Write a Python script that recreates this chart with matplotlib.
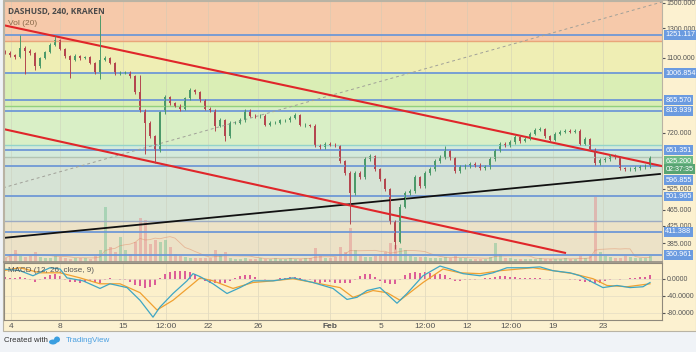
import numpy as np
import pandas as pd
import matplotlib
matplotlib.use("Agg")
import matplotlib.pyplot as plt
from matplotlib import transforms
from matplotlib.patches import Rectangle, Ellipse
from matplotlib.ticker import FixedLocator, NullLocator, FuncFormatter

# DASHUSD 4h candles (grouped ~2.5 bars per candle)
first_open = 1140
closes = [1130, 1116, 1103, 1162, 1143, 1130, 1049, 1097, 1136, 1182,
          1215, 1156, 1110, 1085, 1110, 1097, 1103, 1067, 1013, 1085,
          1097, 1067, 1002, 1008, 1013, 990, 904, 816, 762, 707,
          649, 807, 879, 850, 839, 825, 874, 914, 904, 864,
          825, 816, 749, 771, 707, 762, 762, 771, 816, 793,
          789, 793, 753, 762, 762, 771, 771, 784, 797, 753,
          753, 749, 668, 664, 676, 672, 668, 613, 573, 511,
          573, 560, 620, 631, 586, 553, 523, 435, 389, 474,
          511, 517, 560, 532, 573, 586, 613, 627, 649, 624,
          579, 592, 596, 603, 599, 589, 592, 620, 649, 676,
          668, 683, 703, 687, 695, 715, 732, 736, 707, 691,
          715, 724, 728, 724, 728, 676, 695, 656, 606, 617,
          620, 631, 627, 589, 586, 586, 589, 592, 596, 625.2]
highs = [1150, 1140, 1125, 1250, 1172, 1152, 1138, 1106, 1145, 1192,
         1240, 1222, 1164, 1118, 1120, 1118, 1112, 1110, 1073, 1400,
         1108, 1104, 1073, 1018, 1022, 1020, 995, 996, 822, 770,
         712, 815, 888, 886, 858, 846, 882, 925, 922, 910,
         870, 832, 822, 780, 777, 770, 770, 780, 825, 822,
         800, 800, 798, 770, 770, 778, 778, 792, 805, 802,
         760, 758, 754, 675, 684, 682, 679, 672, 618, 578,
         580, 580, 627, 638, 636, 590, 557, 527, 440, 480,
         518, 524, 566, 565, 580, 593, 620, 634, 668, 654,
         629, 598, 603, 610, 609, 605, 598, 626, 655, 683,
         683, 690, 710, 709, 702, 722, 740, 744, 741, 712,
         722, 731, 735, 735, 735, 733, 702, 700, 660, 624,
         627, 638, 638, 632, 594, 593, 595, 598, 602, 632]
lows = [1120, 1105, 1090, 1098, 1002, 1118, 1025, 1040, 1090, 1128,
        1175, 1148, 1100, 979, 1078, 1088, 1090, 1060, 1005, 973,
        1078, 1058, 995, 995, 1000, 982, 896, 808, 638, 698,
        606, 645, 800, 842, 830, 815, 820, 868, 896, 856,
        816, 808, 728, 742, 687, 700, 755, 755, 765, 786,
        782, 782, 746, 746, 755, 756, 764, 765, 778, 746,
        745, 742, 662, 657, 658, 666, 662, 606, 566, 430,
        505, 554, 554, 614, 580, 547, 517, 430, 374, 385,
        470, 505, 512, 526, 528, 567, 580, 607, 621, 618,
        573, 574, 586, 590, 593, 583, 583, 587, 615, 644,
        662, 662, 677, 680, 681, 689, 709, 726, 700, 684,
        686, 709, 718, 718, 718, 670, 670, 650, 600, 600,
        611, 614, 621, 583, 580, 580, 580, 583, 586, 590]
volumes = [4, 8, 12, 6, 5, 6, 10, 5,
           4, 4, 6, 5, 4, 3, 4, 4, 4, 3,
           6, 12, 55, 15, 10, 25, 12, 8, 20, 44, 42, 18, 22, 20, 22, 15, 8, 6,
           5, 4, 4, 4, 4,
           4, 12, 8, 10,
           4, 3, 3, 4, 3, 3, 4, 3, 3, 4, 3, 3, 4, 3, 3, 4, 4,
           14, 6, 4, 4, 5,
           15, 10, 34, 12,
           6, 5, 5, 6, 8,
           10, 19, 17, 14, 12,
           6, 5, 5, 5, 4, 4, 4, 5, 4, 6, 4, 4, 3, 3, 3, 3,
           5, 19, 8,
           4, 4, 3, 3, 3, 3, 3, 4, 3, 3, 3, 3, 4, 3, 3, 6, 4, 6,
           65, 10,
           6, 5, 4, 4, 6, 5, 4, 4, 4, 6]

# MACD (12, 26, close, 9)
macd_hist = [3, 2, 1, 3, 2, -3, -8, -4, 3, 8,
             11, 7, -3, -7, -8, -9, -8, -6, -8, -10,
             -4, 2, 0, -2, -3, -8, -14, -18, -21, -20,
             -16, 2, 12, 16, 18, 19, 18, 15, 10, 2,
             -6, -9, -10, -11, -11, -6, 2, 6, 9, 8,
             3, 0, -2, -1, 0, 1, 2, 4, 5, 1,
             -2, -4, -8, -9, -8, -7, -9, -11, -11, -10,
             -4, 6, 11, 10, 4, -5, -9, -12, -13, -4,
             8, 13, 15, 14, 15, 14, 12, 11, 9, 2,
             -5, -5, -4, -3, -2, -1, 1, 2, 5, 6,
             6, 5, 3, 2, 1, 1, 2, 1, -1, -2,
             -1, -1, -1, -2, -2, -6, -7, -8, -10, -10,
             -6, -3, -1, -2, -1, 1, 2, 3, 5, 8]
macd_x = [-0.4, 3, 5.6, 9, 11, 12.4, 15.6, 19, 21, 24.4,
          27, 29.6, 31, 33.6, 36.4, 37.6, 39, 41.6, 44.4, 47,
          49.6, 53.6, 57.6, 61.6, 65.6, 68.4, 70.4, 72.4, 75, 78.4,
          80.4, 83.6, 87, 89, 91.6, 95, 97.6, 100.4, 104.4, 107,
          109.6, 113, 115, 117.6, 119.6, 122.4, 125, 127.6, 129]
macd_line = [23, 19, 7, 26, 23, 2, -5, -23, -12, -21,
             -51, -91, -67, -35, -5, 12, 5, -12, -35, -21,
             -5, -5, 2, -9, -23, -49, -44, -28, -21, -58,
             -35, 7, 30, 23, 12, 7, 14, 26, 26, 28,
             19, 14, 7, -9, -21, -16, -21, -19, -9]
signal_x = [-0.4, 3, 7, 11, 15, 19, 23, 27, 30.4, 33.6,
            37.6, 39, 41.6, 45.6, 49.6, 53.6, 57.6, 63, 67, 69.6,
            73.6, 76.4, 79, 83.6, 87.6, 91, 95, 99, 105.6, 109.6,
            113.6, 117.6, 120.4, 124.4, 129]
signal_line = [19, 26, 14, 14, 2, -12, -12, -33, -74, -51,
               -12, 2, -5, -23, -9, -5, 0, -12, -21, -44,
               -28, -33, -51, -9, 23, 14, 12, 19, 26, 19,
               12, 0, -16, -19, -12]

# horizontal levels and drawings
blue_levels = [1251.117, 1006.854, 865.570, 813.939, 651.351, 596.855, 501.965, 411.388, 360.961]
fib_levels = [1208, 837, 671, 628, 437]
fib_colors = ['#e9a57a', '#93d07e', '#93d3cb', '#b3c4b3', '#9eabc2']
band_edges = [340, 437, 628, 671, 837, 1006.854, 1208, 1600]
band_colors = ['#ece2c7', '#d6e3d5', '#d3eadb', '#d9efc6', '#daeeb5', '#efeeb4', '#f6c9aa']
red_top = ([-0.4, 131.4], [1322, 596])
red_bottom = ([-0.4, 112], [735, 365])
black_line = ([-0.4, 131], [397, 570])
dashed_line = ([-0.4, 131.4], [527, 1506])

price_ticks = [1500, 1300, 1100, 720, 525, 465, 425, 385]
time_pos = [1.2, 11, 23.6, 32.2, 40.6, 50.6, 65, 75.2, 84, 92.4, 101.2, 109.6, 119.6]
time_labels = ['4', '8', '15', '12:00', '22', '26', 'Feb', '5', '12:00', '12', '12:00', '19', '23']

plt.rcParams['font.family'] = ['Liberation Sans', 'DejaVu Sans']

W, H = 696.0, 352.0


def frect(x0, y0, x1, y1):
    return [x0 / W, 1 - y1 / H, (x1 - x0) / W, (y1 - y0) / H]


fig = plt.figure(figsize=(6.96, 3.52), dpi=100)
fig.patch.set_facecolor('#f0f3f7')
fig.patches.append(Rectangle((3 / W, 1 - 331 / H), 693 / W, 331 / H, transform=fig.transFigure,
                             fc='#fcf1d0', ec='#b9b3a4', lw=0.8, zorder=-10))

xlim = (-0.2, 131.4)
ylim = (346.6, 1514.5)
n = len(closes)
idx = np.arange(n)
opens = np.r_[first_open, closes[:-1]]
up = np.array(closes) >= opens

# background bands
ax_bg = fig.add_axes(frect(4, 1, 662, 262))
ax_bg.set_yscale('log')
ax_bg.set_xlim(xlim)
ax_bg.set_ylim(ylim)
for lo, hi, c in zip(band_edges[:-1], band_edges[1:], band_colors):
    ax_bg.axhspan(lo, hi, color=c, lw=0)
for t in time_pos:
    ax_bg.axvline(t, color='#c9c9b8', lw=0.5, alpha=0.6)
ax_bg.axis('off')

# volume overlay
ax_vol = fig.add_axes(frect(4, 1, 662, 262))
ax_vol.set_xlim(xlim)
ax_vol.set_ylim(0, 261)
ax_vol.bar(idx, volumes, width=0.6, color=np.where(up, '#7cc496', '#e58f8f'), alpha=0.5, lw=0)
vol_ma = pd.Series(volumes).rolling(8, min_periods=1).mean()
ax_vol.plot(idx, vol_ma, color='#e0805a', lw=0.6, alpha=0.45)
ax_vol.axis('off')

# price pane
ax = fig.add_axes(frect(4, 1, 662, 262))
ax.set_facecolor('none')
ax.set_yscale('log')
ax.set_xlim(xlim)
ax.set_ylim(ylim)

for lv, c in zip(fib_levels, fib_colors):
    ax.axhline(lv, color=c, lw=1.0)
for lv in blue_levels:
    ax.axhline(lv, color='#6f98d6', lw=1.3)

ax.plot(*dashed_line, color='#a0a098', lw=0.7, ls=(0, (3, 3)))
ax.plot(*black_line, color='#111111', lw=1.3)
ax.plot(*red_top, color='#e0262a', lw=1.5)
ax.plot(*red_bottom, color='#e0262a', lw=1.5)

col = np.where(up, '#4c9a6a', '#b4464f')
ax.vlines(idx, lows, highs, colors=col, lw=0.7)
body_lo = np.minimum(opens, closes)
body_hi = np.maximum(opens, closes)
ax.bar(idx, body_hi - body_lo, bottom=body_lo, width=0.55, color=col, lw=0)

ax.yaxis.tick_right()
ax.yaxis.set_major_locator(FixedLocator(price_ticks))
ax.yaxis.set_minor_locator(NullLocator())
ax.yaxis.set_major_formatter(FuncFormatter(lambda v, p: '%.3f' % v))
ax.tick_params(axis='y', which='major', direction='out', length=2.5, pad=1,
               labelsize=5.0, colors='#555555')
ax.set_xticks(time_pos)
ax.tick_params(axis='x', length=0, labelbottom=False)
for s in ax.spines.values():
    s.set_color('#b9b3a4')
    s.set_linewidth(0.8)
ax.spines['bottom'].set_color('#9a9488')
ax.spines['bottom'].set_linewidth(1.3)

lab_tr = transforms.blended_transform_factory(ax.transAxes, ax.transData)
box_labels = [('1251.117', 1251.117, '#6b9be0'), ('1006.854', 1006.854, '#6b9be0'),
              ('865.570', 865.570, '#6b9be0'), ('813.939', 813.939, '#6b9be0'),
              ('651.351', 651.351, '#6b9be0'), ('625.200', 613, '#6dba86'),
              ('02:37:35', 585, '#58a473'), ('596.855', 550, '#6b9be0'),
              ('501.965', 501.965, '#6b9be0'), ('411.388', 411.388, '#6b9be0'),
              ('360.961', 360.961, '#6b9be0')]
for txt, yp, c in box_labels:
    ax.text(1.005, yp, txt, transform=lab_tr, fontsize=5.2, color='white', va='center', ha='left',
            bbox=dict(boxstyle='square,pad=0.2', fc=c, ec='none'), zorder=5)

ax.text(0.006, 0.958, 'DASHUSD, 240, KRAKEN', transform=ax.transAxes, fontsize=6,
        fontweight='bold', color='#4a4a4a', va='center', family=['Open Sans', 'DejaVu Sans'])
ax.text(0.006, 0.915, 'Vol (20)', transform=ax.transAxes, fontsize=6, color='#8a6a4a', va='center')

# MACD pane
axm = fig.add_axes(frect(4, 263, 662, 320))
axm.set_facecolor('#fcf0cb')
axm.set_xlim(xlim)
axm.set_ylim(-97.7, 37.2)
for t in time_pos:
    axm.axvline(t, color='#d8d0b8', lw=0.5, alpha=0.8)
for v in [0, -40, -80]:
    axm.axhline(v, color='#e4dcc4', lw=0.5)
axm.bar(idx, macd_hist, width=0.4, color='#dc5e98', lw=0)
axm.plot(signal_x, signal_line, color='#f0a030', lw=0.9)
axm.plot(macd_x, macd_line, color='#3ea6c4', lw=0.9)
axm.yaxis.tick_right()
axm.set_yticks([0, -40, -80])
axm.yaxis.set_major_formatter(FuncFormatter(lambda v, p: '%.4f' % v))
axm.tick_params(axis='y', direction='out', length=2.5, pad=1, labelsize=5.0, colors='#555555')
axm.set_xticks(time_pos)
axm.set_xticklabels(time_labels)
axm.tick_params(axis='x', length=0, pad=2.5, labelsize=6, colors='#555555')
for lbl in axm.get_xticklabels():
    if lbl.get_text() == 'Feb':
        lbl.set_fontweight('bold')
for s in axm.spines.values():
    s.set_color('#8f897c')
    s.set_linewidth(0.8)
axm.text(0.006, 0.86, 'MACD (12, 26, close, 9)', transform=axm.transAxes, fontsize=5.8,
         color='#555555', va='center')

# footer
fig.text(4 / W, 1 - 341 / H, 'Created with', fontsize=5.6, color='#333333', va='center')
fig.patches.append(Ellipse((53 / W, 1 - 342 / H), 8 / W, 5 / H, transform=fig.transFigure,
                           fc='#3a9ee0', ec='none'))
fig.patches.append(Ellipse((57 / W, 1 - 339.5 / H), 6 / W, 6 / H, transform=fig.transFigure,
                           fc='#3a9ee0', ec='none'))
fig.text(66 / W, 1 - 341 / H, 'TradingView', fontsize=5.8, color='#4aa0e0', va='center')

fig.savefig('out.png', dpi=100, facecolor=fig.get_facecolor())
